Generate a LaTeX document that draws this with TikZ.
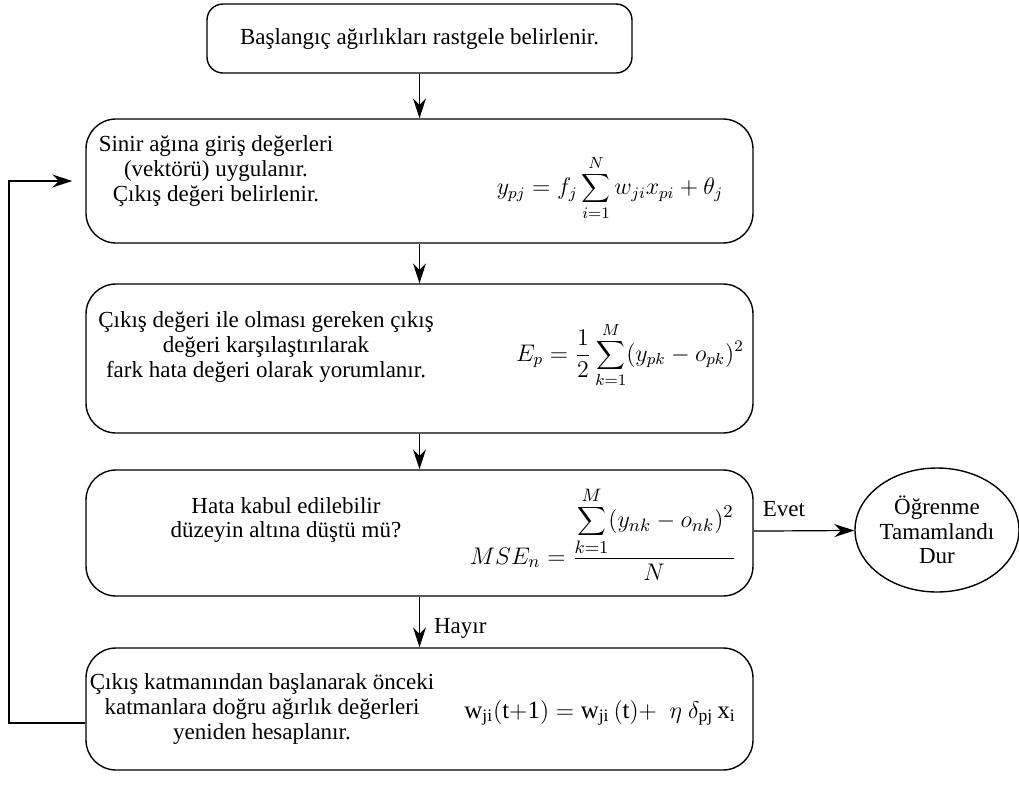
\documentclass[tikz,border=0pt]{standalone}
\usepackage{fontspec}
\setmainfont{Liberation Serif}
\usetikzlibrary{arrows.meta, positioning, shapes.geometric}
\tikzset{
  stepbox/.style = {draw, rounded corners=15pt, line width=0.7pt, minimum width=333.5pt},
  txt/.style     = {align=center, font=\fontsize{11.5}{12.3}\selectfont, inner sep=0pt},
  eqn/.style     = {font=\fontsize{12}{14}\selectfont, inner sep=0pt},
  flow/.style    = {-{Stealth[length=10pt, width=6.5pt]}, line width=0.6pt},
  lbl/.style     = {font=\fontsize{11.5}{12.5}\selectfont, inner sep=0pt}
}

\begin{document}
\begin{tikzpicture}[x=0.5pt, y=-0.5pt]
  \useasboundingbox (0,0) rectangle (1019,799);

  \node[stepbox, rounded corners=8pt, minimum width=212.5pt, minimum height=34.5pt, txt] (start)
       at (419.5,38.5) {Başlangıç ağırlıkları rastgele belirlenir.};

  \node[stepbox, minimum height=62pt] (input) at (419.5,181) {};
  \node[txt] (inputtxt) at (216,171) {Sinir ağına giriş değerleri\\(vektörü) uygulanır.\\Çıkış değeri belirlenir.};
  \node[eqn] (inputeq) at (610,188) {$\displaystyle y_{pj}=f_j\sum_{i=1}^{N}w_{ji}x_{pi}+\theta_j$};

  \node[stepbox, minimum height=74.5pt] (compare) at (419.5,358.5) {};
  \node[txt] (comparetxt) at (266,347) {Çıkış değeri ile olması gereken çıkış\\değeri karşılaştırılarak\\fark hata değeri olarak yorumlanır.};
  \node[eqn] (compareeq) at (630,355) {$\displaystyle E_p=\frac{1}{2}\sum_{k=1}^{M}(y_{pk}-o_{pk})^2$};

  \node[stepbox, minimum height=63pt] (check) at (419.5,533) {};
  \node[txt] (checktxt) at (286,520) {Hata kabul edilebilir\\düzeyin altına düştü mü?};
  \node[eqn, font=\fontsize{12.5}{14}\selectfont] (checkeq) at (603,534) {$\displaystyle MSE_n=\frac{\displaystyle\sum_{k=1}^{M}(y_{nk}-o_{nk})^2}{N}$};

  \node[stepbox, minimum height=61pt] (update) at (419.5,709) {};
  \node[txt] (updatetxt) at (262,709) {Çıkış katmanından başlanarak önceki\\katmanlara doğru ağırlık değerleri\\yeniden hesaplanır.};
  \node[eqn, font=\fontsize{12.5}{14}\selectfont] (updateeq) at (600,713) {$\mathrm{w_{ji}(t{+}1) = w_{ji}\,(t) +}\ \ \eta\ \delta_{\mathrm{pj}}\,\mathrm{x_i}$};

  \node[draw, ellipse, line width=0.7pt, minimum width=82pt, minimum height=62pt, txt] (done)
       at (937,530) {Öğrenme\\Tamamlandı\\Dur};

  \draw[flow] (start) -- (input);
  \draw[flow] (input) -- (compare);
  \draw[flow] (compare) -- (check);
  \draw[flow] (check) -- node[lbl, right=7pt, pos=0.62] {Hayır} (update);
  \draw[flow] (check) -- node[lbl, above=7pt, pos=0.3] {Evet} (done);

  \coordinate (loopbot) at (9,723);
  \coordinate (looptop) at (9,181);
  \draw[flow, shorten >=6.5pt] (update.west |- loopbot) -- (loopbot) -- (looptop) -- (input.west |- looptop);
\end{tikzpicture}
\end{document}
